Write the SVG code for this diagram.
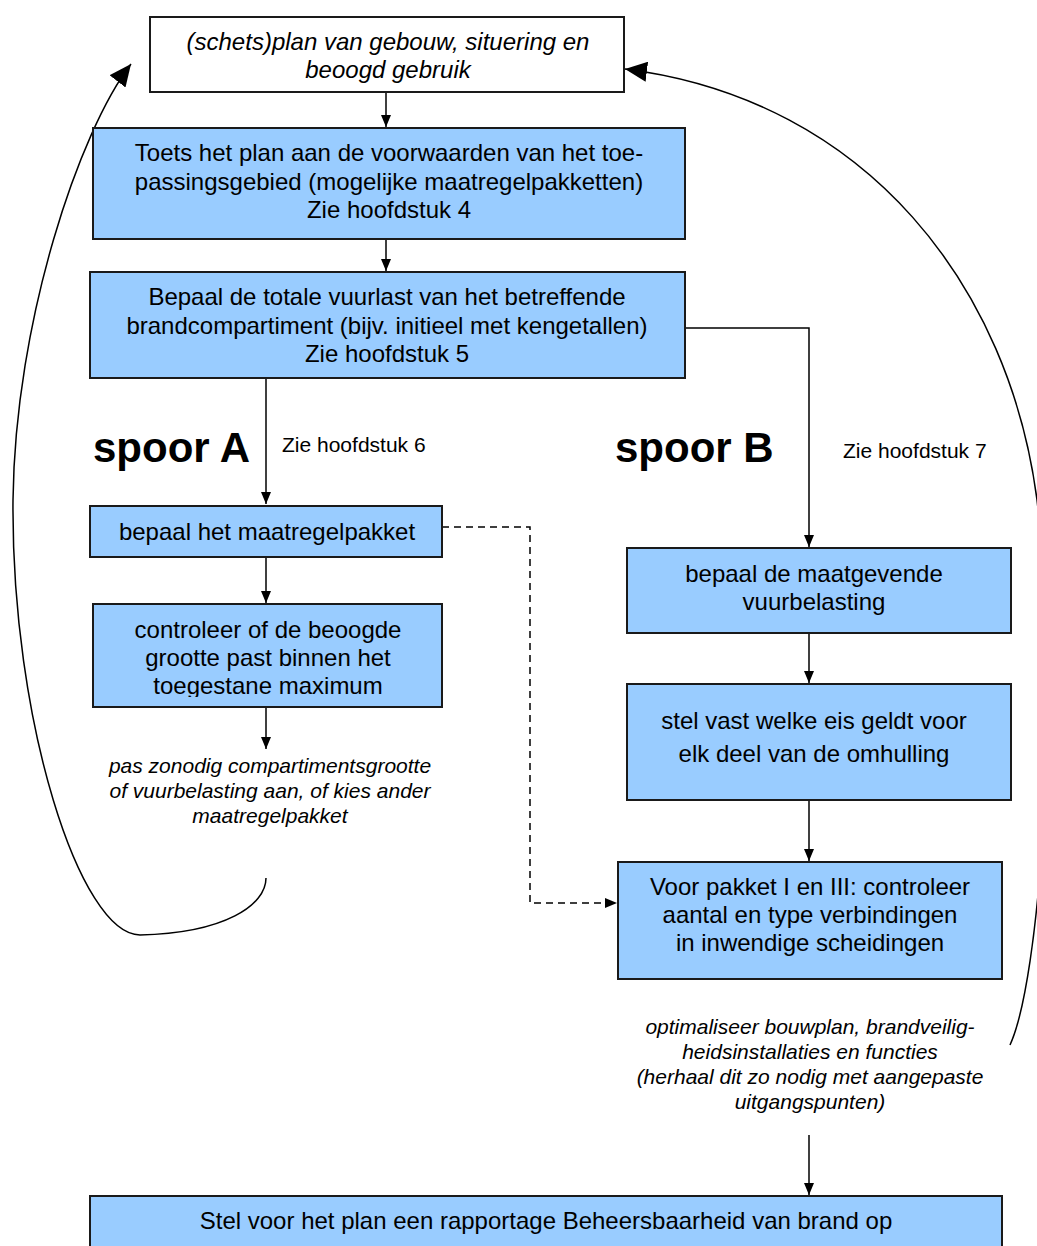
<svg xmlns="http://www.w3.org/2000/svg" width="1037" height="1246" viewBox="0 0 1037 1246">
<style>
.box{fill:#99CCFF;stroke:#1a1a1a;stroke-width:2}
.wbox{fill:#ffffff;stroke:#1a1a1a;stroke-width:2}
.t{font-family:"Liberation Sans",Arial,sans-serif;font-size:24px;fill:#000;text-anchor:middle}
.ti{font-family:"Liberation Sans",Arial,sans-serif;font-size:24px;font-style:italic;fill:#000;text-anchor:middle}
.note{font-family:"Liberation Sans",Arial,sans-serif;font-size:21px;font-style:italic;fill:#000;text-anchor:middle}
.lbl{font-family:"Liberation Sans",Arial,sans-serif;font-size:21px;fill:#000}
.big{font-family:"Liberation Sans",Arial,sans-serif;font-size:42px;font-weight:bold;fill:#000}
.c{fill:none;stroke:#000;stroke-width:1.5}
.d{fill:none;stroke:#000;stroke-width:1.5;stroke-dasharray:7 5}
</style>
<defs>
<marker id="ah" markerUnits="userSpaceOnUse" markerWidth="13" markerHeight="10" refX="12" refY="5" orient="auto">
<path d="M0,0 L12,5 L0,10 Z" fill="#000"/>
</marker>
<marker id="ahL" markerUnits="userSpaceOnUse" markerWidth="24" markerHeight="20" refX="22" refY="10" orient="auto">
<path d="M0,0 L22,10 L0,20 Z" fill="#000"/>
</marker>
<clipPath id="clipC"><rect x="93" y="604" width="349" height="93"/></clipPath>
</defs>

<g id="connectors">
<path class="c" d="M386,92 V127" marker-end="url(#ah)"/>
<path class="c" d="M386,239 V271" marker-end="url(#ah)"/>
<path class="c" d="M266,378 V504" marker-end="url(#ah)"/>
<path class="c" d="M266,557 V603" marker-end="url(#ah)"/>
<path class="c" d="M266,707 V749" marker-end="url(#ah)"/>
<path class="c" d="M685,328 H809 V547" marker-end="url(#ah)"/>
<path class="c" d="M809,633 V683" marker-end="url(#ah)"/>
<path class="c" d="M809,800 V861" marker-end="url(#ah)"/>
<path class="c" d="M809,1135 V1195" marker-end="url(#ah)"/>
<path class="d" d="M442,527 H530 V903 H617" marker-end="url(#ah)"/>
<path class="c" d="M266,878 C266,905 225,933 140,935 C80,935 11,720 13,500 C15,320 80,130 131,64" marker-end="url(#ahL)"/>
<path class="c" d="M1010,1045 C1040,980 1060,700 1037,500 C1010,290 870,100 625,69" marker-end="url(#ahL)"/>
</g>

<g id="n-plan">
<rect class="wbox" x="150" y="17" width="474" height="75"/>
<text class="ti" x="388" y="50">(schets)plan van gebouw, situering en</text>
<text class="ti" x="388" y="78">beoogd gebruik</text>
</g>

<g id="n-toets">
<rect class="box" x="93" y="128" width="592" height="111"/>
<text class="t" x="389" y="161">Toets het plan aan de voorwaarden van het toe-</text>
<text class="t" x="389" y="190">passingsgebied (mogelijke maatregelpakketten)</text>
<text class="t" x="389" y="218">Zie hoofdstuk 4</text>
</g>

<g id="n-vuurlast">
<rect class="box" x="90" y="272" width="595" height="106"/>
<text class="t" x="387" y="305">Bepaal de totale vuurlast van het betreffende</text>
<text class="t" x="387" y="334">brandcompartiment (bijv. initieel met kengetallen)</text>
<text class="t" x="387" y="362">Zie hoofdstuk 5</text>
</g>

<g id="labels">
<text class="big" x="93" y="462">spoor A</text>
<text class="lbl" x="282" y="452">Zie hoofdstuk 6</text>
<text class="big" x="615" y="462">spoor B</text>
<text class="lbl" x="843" y="458">Zie hoofdstuk 7</text>
</g>

<g id="n-pakket">
<rect class="box" x="90" y="506" width="352" height="51"/>
<text class="t" x="267" y="540">bepaal het maatregelpakket</text>
</g>

<g id="n-controleer">
<rect class="box" x="93" y="604" width="349" height="103"/>
<g clip-path="url(#clipC)">
<text class="t" x="268" y="638">controleer of de beoogde</text>
<text class="t" x="268" y="666">grootte past binnen het</text>
<text class="t" x="268" y="694">toegestane maximum</text>
</g>
</g>

<g id="n-noteA">
<text class="note" x="270" y="773">pas zonodig compartimentsgrootte</text>
<text class="note" x="270" y="798">of vuurbelasting aan, of kies ander</text>
<text class="note" x="270" y="823">maatregelpakket</text>
</g>

<g id="n-maatgevend">
<rect class="box" x="627" y="548" width="384" height="85"/>
<text class="t" x="814" y="582">bepaal de maatgevende</text>
<text class="t" x="814" y="610">vuurbelasting</text>
</g>

<g id="n-eis">
<rect class="box" x="627" y="684" width="384" height="116"/>
<text class="t" x="814" y="729">stel vast welke eis geldt voor</text>
<text class="t" x="814" y="762">elk deel van de omhulling</text>
</g>

<g id="n-verbindingen">
<rect class="box" x="618" y="862" width="384" height="117"/>
<text class="t" x="810" y="895">Voor pakket I en III: controleer</text>
<text class="t" x="810" y="923">aantal en type verbindingen</text>
<text class="t" x="810" y="951">in inwendige scheidingen</text>
</g>

<g id="n-noteB">
<text class="note" x="810" y="1034">optimaliseer bouwplan, brandveilig-</text>
<text class="note" x="810" y="1059">heidsinstallaties en functies</text>
<text class="note" x="810" y="1084">(herhaal dit zo nodig met aangepaste</text>
<text class="note" x="810" y="1109">uitgangspunten)</text>
</g>

<g id="n-rapportage">
<rect class="box" x="90" y="1196" width="912" height="60"/>
<text class="t" x="546" y="1229">Stel voor het plan een rapportage Beheersbaarheid van brand op</text>
</g>
</svg>
